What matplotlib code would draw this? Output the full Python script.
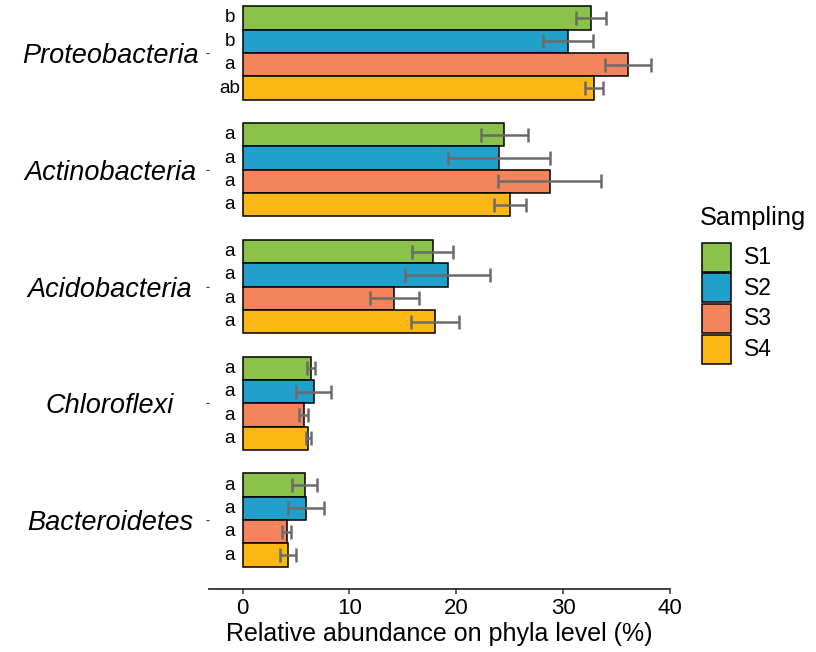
import matplotlib
matplotlib.use("Agg")
import matplotlib.pyplot as plt
from matplotlib.patches import Rectangle
import numpy as np

plt.rcParams['font.family'] = ['Liberation Sans', 'DejaVu Sans']

phyla = ["Proteobacteria", "Actinobacteria", "Acidobacteria", "Chloroflexi", "Bacteroidetes"]
samplings = ["S1", "S2", "S3", "S4"]
colors = ["#8BC34A", "#21A0CB", "#F4845C", "#FBB814"]

# mean relative abundance (%) per phylum, one list per sampling
s1_mean = [32.6, 24.5, 17.8, 6.4, 5.8]
s2_mean = [30.5, 24.0, 19.2, 6.65, 5.95]
s3_mean = [36.05, 28.75, 14.2, 5.7, 4.1]
s4_mean = [32.9, 25.05, 18.0, 6.15, 4.25]

s1_sd = [1.4, 2.2, 1.9, 0.35, 1.15]
s2_sd = [2.35, 4.8, 4.0, 1.65, 1.7]
s3_sd = [2.15, 4.8, 2.3, 0.45, 0.4]
s4_sd = [0.85, 1.5, 2.25, 0.2, 0.75]

s1_letters = ["b", "a", "a", "a", "a"]
s2_letters = ["b", "a", "a", "a", "a"]
s3_letters = ["a", "a", "a", "a", "a"]
s4_letters = ["ab", "a", "a", "a", "a"]

means = [s1_mean, s2_mean, s3_mean, s4_mean]
sds = [s1_sd, s2_sd, s3_sd, s4_sd]
letters = [s1_letters, s2_letters, s3_letters, s4_letters]

W, H = 816, 652
fig = plt.figure(figsize=(W / 100, H / 100), dpi=100)
ax = fig.add_axes([209 / W, (H - 589) / H, (670 - 209) / W, 589 / H])

pos = np.arange(len(phyla))
bar_h = 0.2
offsets = [-0.3, -0.1, 0.1, 0.3]

for i in range(4):
    y = pos + offsets[i]
    ax.barh(y, means[i], height=bar_h, color=colors[i], edgecolor="black",
            linewidth=1.1, zorder=2)
    ax.errorbar(means[i], y, xerr=sds[i], fmt="none", ecolor="#6b6b6b",
                elinewidth=1.8, capsize=4.7, capthick=1.8, zorder=3)
    for yy, lab in zip(y, letters[i]):
        ax.text(-1.2, yy, lab, ha="center", va="center", fontsize=13.5,
                color="black")

ax.set_xlim(-3.16, 40.02)
ax.set_ylim(4.59, -0.454)
ax.set_xticks([0, 10, 20, 30, 40])
ax.set_yticks(pos)
ax.set_yticklabels(phyla, fontsize=19.5, style="italic")
for lbl in ax.get_yticklabels():
    lbl.set_horizontalalignment("center")
ax.tick_params(axis="y", length=2.2, width=0.8, color="#333333", pad=69)
ax.tick_params(axis="x", length=3.5, width=1.1, color="#333333",
               labelsize=16, pad=3)
ax.set_xlabel("Relative abundance on phyla level (%)", fontsize=18, labelpad=2)

for side in ["top", "right", "left"]:
    ax.spines[side].set_visible(False)
ax.spines["bottom"].set_color("#333333")
ax.spines["bottom"].set_linewidth(1.3)
ax.patch.set_alpha(0)

# legend drawn in figure pixel coordinates
def fx(px):
    return px / W

def fy(py):
    return 1 - py / H

fig.text(fx(700), fy(218), "Sampling", ha="left", va="center", fontsize=18.3)
key_top = 242
key_h = 30.75
for i, (lab, c) in enumerate(zip(samplings, colors)):
    top = key_top + i * key_h
    fig.patches.append(Rectangle((fx(702), fy(top + key_h - 1)),
                                 fx(731) - fx(702), (key_h - 1.5) / H,
                                 facecolor=c, edgecolor="black", linewidth=1.1,
                                 transform=fig.transFigure, figure=fig))
    fig.text(fx(744), fy(top + key_h / 2), lab, ha="left", va="center",
             fontsize=16.5)

fig.savefig("out.png", dpi=100)
